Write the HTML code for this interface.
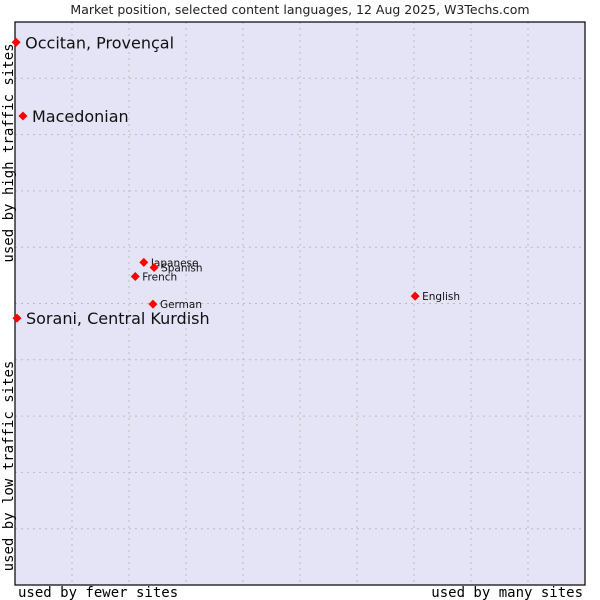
<!DOCTYPE html>
<html><head><meta charset="utf-8"><style>
html,body{margin:0;padding:0;background:#fff;}
svg{display:block;}
</style></head><body>
<svg id="chart" width="600" height="600" viewBox="0 0 600 600">
<rect x="0" y="0" width="600" height="600" fill="#fff"/>
<text x="300" y="14" text-anchor="middle" font-family="DejaVu Sans, sans-serif" font-size="12.5" fill="#222">Market position, selected content languages, 12 Aug 2025, W3Techs.com</text>
<rect x="15" y="22" width="570" height="563" fill="#e4e4f6" stroke="#000" stroke-width="1"/>
<g id="grid"></g>
<rect x="15" y="22" width="570" height="563" fill="none" stroke="#000" stroke-width="1.2"/>
<text transform="translate(13,153) rotate(-90)" text-anchor="middle" font-family="DejaVu Sans Mono, Liberation Mono, monospace" font-size="14" fill="#000">used by high traffic sites</text>
<text transform="translate(13,466) rotate(-90)" text-anchor="middle" font-family="DejaVu Sans Mono, Liberation Mono, monospace" font-size="14" fill="#000">used by low traffic sites</text>
<text x="18" y="597" font-family="DejaVu Sans Mono, Liberation Mono, monospace" font-size="14" fill="#000">used by fewer sites</text>
<text x="583" y="597" text-anchor="end" font-family="DejaVu Sans Mono, Liberation Mono, monospace" font-size="14" fill="#000">used by many sites</text>
<g id="points"></g>
</svg>
<script>
const languages = ["Occitan, Provençal","Macedonian","Sorani, Central Kurdish","Japanese","Spanish","French","German","English"];
const usageValues = [0.2, 1.4, 0.35, 22.6, 24.4, 21.1, 24.2, 70.2];
const trafficValues = [96.4, 83.3, 47.4, 57.3, 56.4, 54.8, 49.9, 51.3];
const bigLabel = [true, true, true, false, false, false, false, false];
const gridTicks = [10,20,30,40,50,60,70,80,90];

const L=15,R=585,T=22,B=585;
function xs(v){return L+(R-L)*v/100;}
function ys(v){return B-(B-T)*v/100;}
const NS="http://www.w3.org/2000/svg";
const grid=document.getElementById('grid');
gridTicks.forEach(t=>{
  const v=document.createElementNS(NS,'line');
  v.setAttribute('x1',xs(t));v.setAttribute('x2',xs(t));v.setAttribute('y1',T);v.setAttribute('y2',B);
  v.setAttribute('stroke','#bbbbbb');v.setAttribute('stroke-dasharray','2,4');
  
  
  grid.appendChild(v);
  const h=document.createElementNS(NS,'line');
  h.setAttribute('x1',L);h.setAttribute('x2',R);h.setAttribute('y1',ys(t));h.setAttribute('y2',ys(t));
  h.setAttribute('stroke','#bbbbbb');h.setAttribute('stroke-dasharray','2,4');
  
  
  grid.appendChild(h);
});
const pts=document.getElementById('points');
languages.forEach((name,i)=>{
  const x=xs(usageValues[i]),y=ys(trafficValues[i]);
  const d=document.createElementNS(NS,'polygon');
  d.setAttribute('points',`${x},${y-4.5} ${x+4.5},${y} ${x},${y+4.5} ${x-4.5},${y}`);
  d.setAttribute('fill','#f00');
  
  
  pts.appendChild(d);
  const t=document.createElementNS(NS,'text');
  const big=bigLabel[i];
  t.setAttribute('x',x+(big?9:7));
  t.setAttribute('y',y+(big?6:4));
  t.setAttribute('font-family','DejaVu Sans, sans-serif');
  t.setAttribute('font-size',big?'16':'10.5');
  t.setAttribute('fill','#111');
  t.textContent=name;
  
  
  pts.appendChild(t);
});
</script>
</body></html>
